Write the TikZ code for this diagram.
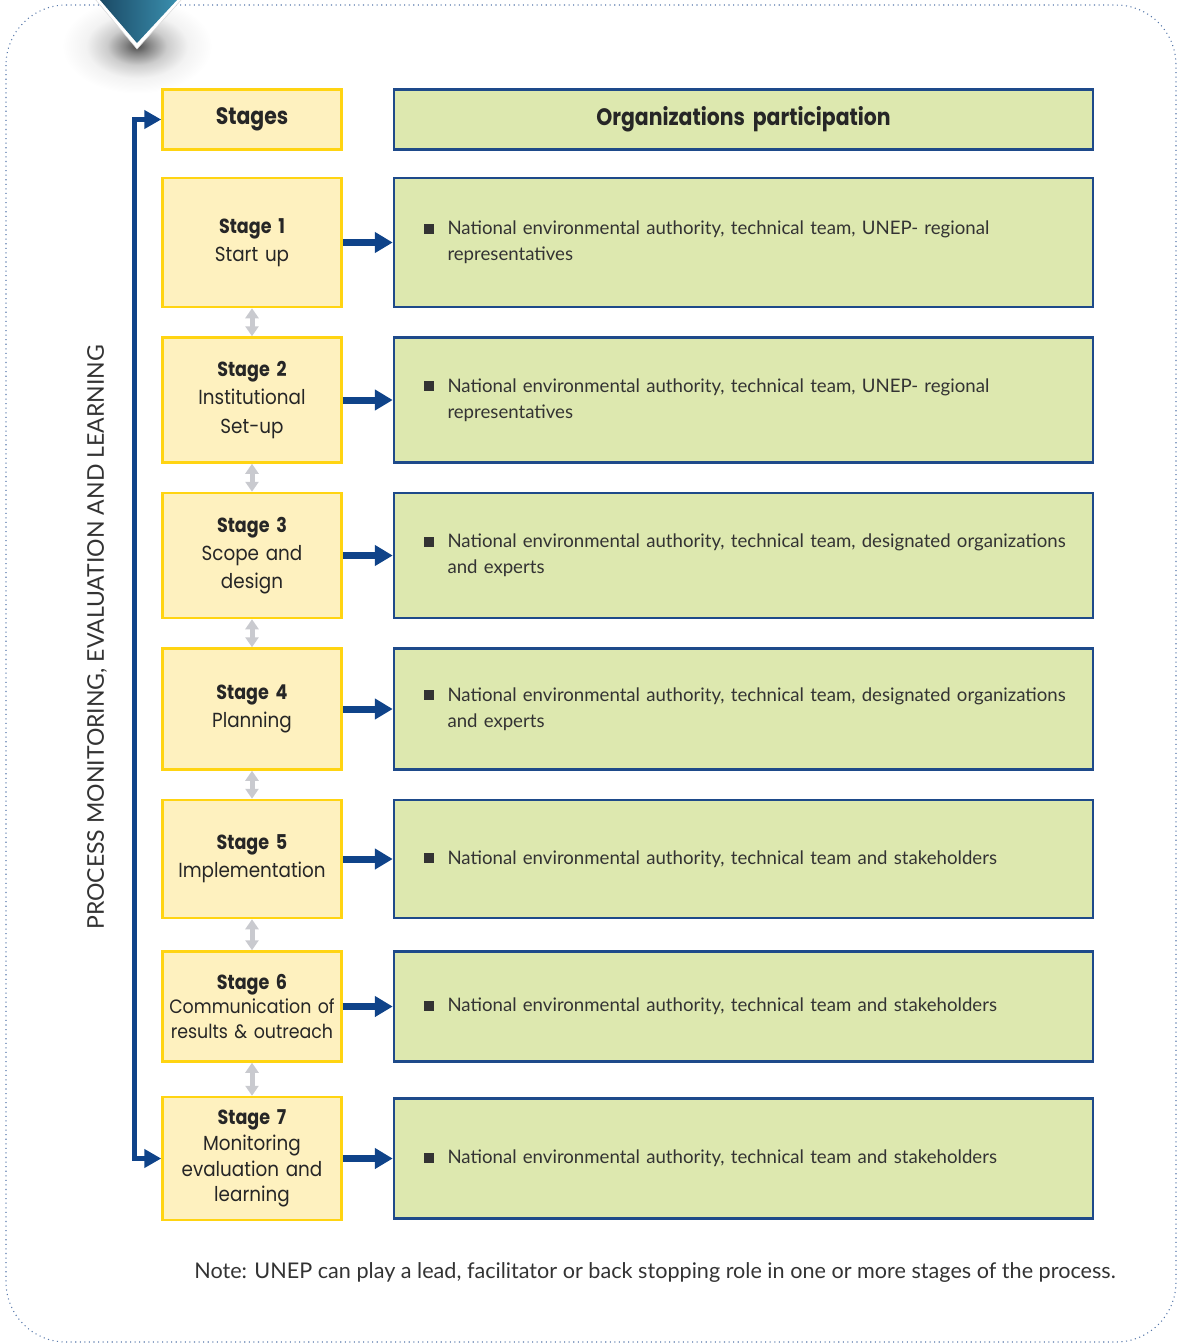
\documentclass[tikz,border=0pt]{standalone}
\usepackage{fontspec}
\setmainfont{Lato}
\newfontfamily\stagefont[FakeStretch=0.9,BoldFeatures={FakeStretch=0.86}]{Poppins}
\usetikzlibrary{positioning,arrows.meta}
\definecolor{stagefill}{HTML}{FEF1BF}
\definecolor{stageline}{HTML}{FFD412}
\definecolor{orgfill}{HTML}{DDE8AF}
\definecolor{orgline}{HTML}{1E4A8A}
\definecolor{linkblue}{HTML}{0F4389}
\definecolor{arrowgray}{HTML}{C9CACF}
\definecolor{bordblue}{HTML}{5677AA}
\definecolor{textgray}{HTML}{333333}
\definecolor{chevdark}{HTML}{1B4A66}
\definecolor{chevlight}{HTML}{3A8FAE}
\pgfdeclareradialshading{shadowblob}{\pgfpointorigin}{color(0bp)=(black!70); color(4bp)=(black!48); color(10bp)=(black!20); color(17bp)=(black!5); color(25bp)=(white); color(50bp)=(white)}
\tikzset{
	stagebox/.style={draw=stageline, fill=stagefill, line width=0.05cm, minimum width=3.58cm, minimum height=#1, text width=3.56cm, align=center, inner sep=0pt, font=\stagefont\fontsize{11.6}{16}\selectfont, text=black!85},
	orgbox/.style={draw=orgline, fill=orgfill, line width=0.05cm, minimum width=13.98cm, minimum height=#1, text width=12.8cm, align=left, inner xsep=0.59cm, font=\fontsize{10.6}{14.7}\selectfont, text=textgray},
	linkarrow/.style={-{Triangle[width=0.4cm,length=0.36cm]}, line width=0.14cm, linkblue},
	grayarrow/.style={{Triangle[width=0.26cm,length=0.2cm]}-{Triangle[width=0.26cm,length=0.2cm]}, line width=0.1cm, arrowgray},
	loopline/.style={{Triangle[width=0.36cm,length=0.34cm]}-{Triangle[width=0.36cm,length=0.34cm]}, line width=0.1cm, linkblue}
}
\newcommand{\bul}{\makebox[0.48cm][l]{\rule[0.02cm]{0.2cm}{0.2cm}}}
\newcommand{\hdfont}{\stagefont\bfseries\fontsize{13.5}{16}\selectfont}

\begin{document}
\begin{tikzpicture}
\useasboundingbox (0,0) rectangle (23.54,-26.86);
\shade[shading=shadowblob] (2.74,-0.92) ellipse (1.5cm and 0.95cm);
\draw[dotted, bordblue, line width=0.6pt, rounded corners=1.2cm] (0.12,-0.1) rectangle (23.52,-26.84);
\fill[white, draw=black!15, line width=0.3pt] (1.9,0.02) -- (3.64,0.02) -- (2.74,-0.98) -- cycle;
\shade[left color=chevdark, right color=chevlight] (2.0,0) -- (3.54,0) -- (2.74,-0.86) -- cycle;

\node[stagebox=1.2cm, font=\hdfont] (hd) at (5.04,-2.39) {Stages};
\node[orgbox=1.2cm, right=1.0cm of hd, align=center, font=\hdfont, text=black!85] (ohd) {Organizations participation};

\node[stagebox=2.58cm, below=0.52cm of hd] (s1) {\textbf{Stage 1}\\Start up};
\node[stagebox=2.5cm, below=0.56cm of s1] (s2) {\textbf{Stage 2}\\Institutional\\Set-up};
\node[stagebox=2.5cm, below=0.56cm of s2] (s3) {\textbf{Stage 3}\\Scope and\\design};
\node[stagebox=2.42cm, below=0.56cm of s3] (s4) {\textbf{Stage 4}\\Planning};
\node[stagebox=2.36cm, below=0.56cm of s4] (s5) {\textbf{Stage 5}\\Implementation};
\node[stagebox=2.2cm, below=0.62cm of s5, font=\stagefont\fontsize{11}{14.2}\selectfont] (s6) {\textbf{\fontsize{11.6}{14.2}\selectfont Stage 6}\\Communication of\\results \& outreach};
\node[stagebox=2.46cm, below=0.66cm of s6, font=\stagefont\fontsize{11.6}{14.6}\selectfont] (s7) {\textbf{Stage 7}\\Monitoring\\evaluation and\\learning};

\node[orgbox=2.58cm, right=1.0cm of s1] (o1) {\bul\mbox{National environmental authority, technical team, UNEP- regional}\\\hspace*{0.48cm}representatives};
\node[orgbox=2.5cm, right=1.0cm of s2] (o2) {\bul\mbox{National environmental authority, technical team, UNEP- regional}\\\hspace*{0.48cm}representatives};
\node[orgbox=2.5cm, right=1.0cm of s3] (o3) {\bul\mbox{National environmental authority, technical team, designated organizations}\\\hspace*{0.48cm}and experts};
\node[orgbox=2.42cm, right=1.0cm of s4] (o4) {\bul\mbox{National environmental authority, technical team, designated organizations}\\\hspace*{0.48cm}and experts};
\node[orgbox=2.36cm, right=1.0cm of s5] (o5) {\bul\mbox{National environmental authority, technical team and stakeholders}};
\node[orgbox=2.2cm, right=1.0cm of s6] (o6) {\bul\mbox{National environmental authority, technical team and stakeholders}};
\node[orgbox=2.4cm, right=1.0cm of s7] (o7) {\bul\mbox{National environmental authority, technical team and stakeholders}};

\node[rotate=90, font=\fontsize{13.1}{15}\selectfont, text=textgray] (side) at (1.94,-12.75) {PROCESS MONITORING, EVALUATION AND LEARNING};
\node[font=\fontsize{12.3}{14}\selectfont, text=textgray] (note) at (13.1,-25.44) {Note: UNEP can play a lead, facilitator or back stopping role in one or more stages of the process.};

\draw[linkarrow] (s1) -- (o1);
\draw[linkarrow] (s2) -- (o2);
\draw[linkarrow] (s3) -- (o3);
\draw[linkarrow] (s4) -- (o4);
\draw[linkarrow] (s5) -- (o5);
\draw[linkarrow] (s6) -- (o6);
\draw[linkarrow] (s7) -- (o7);

\draw[grayarrow] (s1) -- (s2);
\draw[grayarrow] (s2) -- (s3);
\draw[grayarrow] (s3) -- (s4);
\draw[grayarrow] (s4) -- (s5);
\draw[grayarrow] (s5) -- (s6);
\draw[grayarrow] (s6) -- (s7);

\draw[loopline] (s7.west) -- ++(-0.54,0) |- (hd.west);
\end{tikzpicture}
\end{document}
